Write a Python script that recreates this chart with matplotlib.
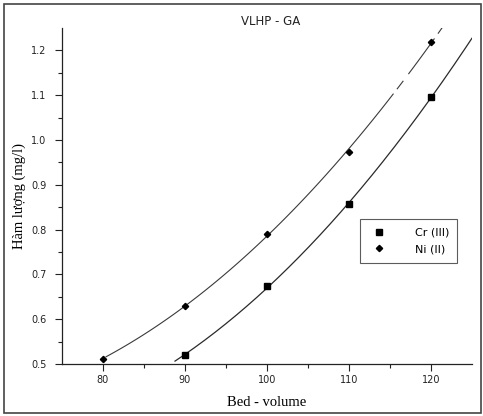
import numpy as np
import matplotlib
matplotlib.use("Agg")
import matplotlib.pyplot as plt
from matplotlib.patches import Rectangle

# data
bv_cr = [90, 100, 110, 120]
cr = [0.52, 0.673, 0.856, 1.095]
bv_ni = [80, 90, 100, 110, 120]
ni = [0.511, 0.63, 0.79, 0.973, 1.218]

xticks = [80, 90, 100, 110, 120]
yticks = [0.5, 0.6, 0.7, 0.8, 0.9, 1.0, 1.1, 1.2]

fig = plt.figure(figsize=(4.83, 4.16), dpi=100)
ax = fig.add_axes([0.128, 0.125, 0.849, 0.808])

# quadratic trend lines, as in the original figure
p_cr = np.polyfit(bv_cr, cr, 2)
p_ni = np.polyfit(bv_ni, ni, 2)

xs = np.linspace(88.8, 125, 200)
ax.plot(xs, np.polyval(p_cr, xs), color="#2a2a2a", lw=0.9)

# the Ni line is broken near the top in the scan
for a, b in [(80.4, 115.4), (115.9, 116.6), (117.3, 120.4), (120.9, 122.3)]:
    xs = np.linspace(a, b, 100)
    ax.plot(xs, np.polyval(p_ni, xs), color="#3a3a3a", lw=0.8)

ax.plot(bv_cr, cr, "s", color="black", ms=4, label="Cr (III)")
ax.plot(bv_ni, ni, "D", color="black", ms=3.2, label="Ni (II)")

ax.set_xlim(75, 125)
ax.set_ylim(0.5, 1.25)
ax.set_xticks(xticks)
ax.set_yticks(yticks)
ax.set_xticks(np.arange(85, 125, 10), minor=True)
ax.set_yticks(np.arange(0.55, 1.25, 0.1), minor=True)
ax.set_xticklabels([str(v) for v in xticks])
ax.set_yticklabels(["%.1f" % v for v in yticks])

for s in ["top", "right"]:
    ax.spines[s].set_visible(False)
for s in ["left", "bottom"]:
    ax.spines[s].set_color("#222222")
    ax.spines[s].set_linewidth(0.9)

ax.tick_params(which="major", direction="out", length=5, width=0.8,
               labelsize=7, colors="#222222")
ax.tick_params(which="minor", direction="out", length=3, width=0.8,
               colors="#222222")
ax.tick_params(axis="x", which="major", pad=3)
ax.tick_params(axis="y", which="major", pad=6)

ax.set_xlabel("Bed - volume", family="Liberation Serif", fontsize=10.5)
ax.set_ylabel("Hàm lượng (mg/l)", family="Liberation Serif", fontsize=10.5)
ax.xaxis.set_label_coords(0.5, -0.095)
ax.yaxis.set_label_coords(-0.088, 0.5)
ax.text(0.51, 1.0, "VLHP - GA", transform=ax.transAxes, ha="center",
        va="bottom", fontsize=8.5, color="#222222")

leg = ax.legend(loc="upper right", bbox_to_anchor=(0.978, 0.447), fontsize=8,
                frameon=True, fancybox=False, edgecolor="#333333",
                handletextpad=2.2, borderpad=0.75, labelspacing=0.6)
leg.get_frame().set_linewidth(0.8)

# outer frame around the whole picture
fig.patches.append(Rectangle((0.008, 0.007), 0.988, 0.983, transform=fig.transFigure,
                             fill=False, edgecolor="#444444", lw=1.2))

fig.savefig("out.png", dpi=100)
